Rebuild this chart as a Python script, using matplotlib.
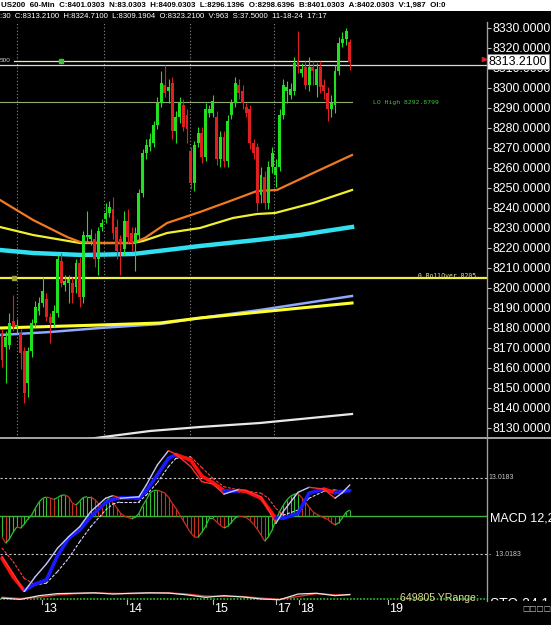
import numpy as np
import matplotlib
matplotlib.use("Agg")
import matplotlib.pyplot as plt
from matplotlib.collections import LineCollection
import matplotlib.transforms as mtransforms
from matplotlib.lines import Line2D
from matplotlib.patches import Rectangle

# ---------------- DATA ----------------
OPEN = [8177.5, 8170.5, 8171.5, 8183.5, 8180.5, 8177.5, 8168.5, 8152.5, 8168.5, 8182.5,
        8188.5, 8192.5, 8194.5, 8185.5, 8182.5, 8187.5, 8213.5, 8201.5, 8202.5, 8202.5,
        8200.5, 8212.5, 8195.5, 8225.5, 8224.5, 8224.5, 8214.5, 8230.5, 8234.5, 8237.5,
        8239.5, 8230.5, 8224.5, 8219.5, 8233.5, 8227.5, 8222.5, 8226.5, 8247.5, 8267.5,
        8270.5, 8272.5, 8281.5, 8292.5, 8301.5, 8298.5, 8302.5, 8278.5, 8285.5, 8291.5,
        8286.5, 8268.5, 8252.5, 8272.5, 8277.5, 8265.5, 8287.5, 8287.5, 8285.5, 8264.5,
        8275.5, 8263.5, 8286.5, 8292.5, 8301.5, 8298.5, 8290.5, 8289.5, 8272.5, 8270.5,
        8246.5, 8255.5, 8242.5, 8260.5, 8256.5, 8260.5, 8286.5, 8298.5, 8296.5, 8298.5,
        8313.5, 8307.5, 8310.5, 8301.5, 8310.5, 8301.5, 8310.5, 8301.5, 8297.5, 8289.5,
        8291.5, 8308.5, 8322.5, 8324.5, 8323.21]
HIGH = [8179.5, 8178.5, 8187.5, 8196.5, 8184.5, 8179.5, 8170.5, 8170.5, 8184.5, 8193.5,
        8195.5, 8205.5, 8197.5, 8187.5, 8191.5, 8216.5, 8217.5, 8206.5, 8206.5, 8205.5,
        8214.5, 8215.5, 8228.5, 8238.5, 8229.5, 8227.5, 8230.5, 8234.5, 8242.5, 8243.5,
        8245.5, 8234.5, 8226.5, 8238.5, 8239.5, 8230.5, 8230.5, 8249.5, 8269.5, 8274.5,
        8277.5, 8283.5, 8295.5, 8308.5, 8311.5, 8304.5, 8305.5, 8288.5, 8295.5, 8294.5,
        8289.5, 8270.5, 8273.5, 8280.5, 8280.5, 8292.5, 8291.5, 8296.5, 8288.5, 8278.5,
        8278.5, 8286.5, 8294.5, 8305.5, 8304.5, 8301.5, 8292.5, 8291.5, 8274.5, 8272.5,
        8260.5, 8258.5, 8263.5, 8270.5, 8264.5, 8289.5, 8304.5, 8303.5, 8302.5, 8315.5,
        8328.5, 8312.5, 8313.5, 8315.5, 8313.5, 8312.5, 8313.5, 8304.5, 8300.5, 8296.5,
        8311.5, 8325.5, 8328.0, 8330.0, 8324.71]
LOW = [8160.5, 8152.5, 8169.5, 8178.5, 8177.5, 8159.5, 8142.5, 8145.5, 8165.5, 8180.5,
       8186.5, 8190.5, 8183.5, 8172.5, 8180.5, 8185.5, 8200.5, 8198.5, 8192.5, 8192.5,
       8197.5, 8190.5, 8192.5, 8222.5, 8221.5, 8210.5, 8206.5, 8228.5, 8232.5, 8235.5,
       8224.5, 8214.5, 8206.5, 8216.5, 8222.5, 8218.5, 8208.5, 8224.5, 8245.5, 8264.5,
       8268.5, 8270.5, 8279.5, 8290.5, 8295.5, 8292.5, 8274.5, 8272.5, 8282.5, 8278.5,
       8272.5, 8249.5, 8248.5, 8270.5, 8262.5, 8263.5, 8285.5, 8285.5, 8261.5, 8260.5,
       8260.5, 8260.5, 8284.5, 8290.5, 8294.5, 8289.5, 8285.5, 8269.5, 8264.5, 8238.5,
       8242.5, 8239.5, 8239.5, 8257.5, 8250.5, 8258.5, 8284.5, 8292.5, 8294.5, 8296.5,
       8307.5, 8305.5, 8299.5, 8298.5, 8301.5, 8295.5, 8297.5, 8294.5, 8283.5, 8285.5,
       8287.5, 8306.5, 8320.5, 8321.5, 8309.19]
CLOSE = [8164.0, 8175.5, 8182.5, 8180.5, 8181.5, 8167.5, 8147.5, 8168.5, 8182.5, 8190.5,
         8192.5, 8198.5, 8185.5, 8182.5, 8188.5, 8214.5, 8202.5, 8203.5, 8204.5, 8197.5,
         8212.5, 8195.5, 8226.5, 8226.5, 8226.5, 8214.5, 8228.5, 8232.5, 8237.5, 8240.5,
         8227.5, 8218.5, 8222.5, 8233.5, 8225.5, 8222.5, 8227.5, 8247.5, 8267.5, 8271.5,
         8274.5, 8281.5, 8292.5, 8302.5, 8297.5, 8300.5, 8278.5, 8285.5, 8292.5, 8280.5,
         8279.5, 8252.5, 8271.5, 8277.5, 8265.5, 8289.5, 8289.5, 8293.5, 8264.5, 8275.5,
         8263.5, 8283.5, 8292.5, 8302.5, 8297.5, 8292.5, 8287.5, 8272.5, 8267.5, 8242.5,
         8256.5, 8242.5, 8260.5, 8267.5, 8260.5, 8286.5, 8301.5, 8300.5, 8299.5, 8312.5,
         8310.5, 8309.5, 8301.5, 8310.5, 8308.5, 8309.5, 8300.5, 8298.5, 8289.5, 8292.5,
         8308.5, 8322.5, 8324.5, 8328.5, 8313.21]

# moving averages (bar position, price)
MA_ORANGE_X = [-0.54, 8.4, 17.6, 21.1, 26.5, 35.4, 38.6, 44.6, 53.5, 62.4, 68.9, 74.3, 84.1, 94.6]
MA_ORANGE_Y = [8244, 8234, 8225.5, 8223, 8222.5, 8222.5, 8225, 8232.5, 8238, 8244, 8248.5, 8249, 8257.5, 8266.5]
MA_YELLOW_X = [-0.54, 8.4, 21.1, 35.4, 38.1, 44.6, 53.5, 62.4, 68.9, 73.8, 84.1, 94.6]
MA_YELLOW_Y = [8230.5, 8226.5, 8222.5, 8222.5, 8223.5, 8227.5, 8230, 8235, 8237, 8237.5, 8242.5, 8249]
MA_CYAN_X = [-0.54, 8.4, 21.9, 35.4, 44.6, 53.5, 68.9, 80.5, 94.6]
MA_CYAN_Y = [8219, 8217.5, 8216.5, 8217, 8219, 8221, 8224, 8226.5, 8230.5]
MA_LOWYEL_X = [-0.54, 26.5, 42.7, 53.5, 69.7, 94.6]
MA_LOWYEL_Y = [8180, 8181.5, 8182.5, 8185, 8188, 8192.5]
MA_LBLUE_X = [-0.54, 13.0, 26.5, 42.7, 53.5, 69.7, 94.6]
MA_LBLUE_Y = [8176.5, 8178, 8180, 8182, 8185, 8189, 8196]
MA_WHITE_X = [21.1, 40.0, 53.5, 69.7, 94.6]
MA_WHITE_Y = [8124, 8128.5, 8130.5, 8132.5, 8137]

LAST_PRICE = 8313.21
LEVEL_500 = 8313.5
BID_LINE = 8311.7
LO_HIGH = 8292.8799
ROLLOVER = 8205.0

PRICE_TICKS = list(range(8130, 8331, 10))

# MACD panel
MACD_X = [0, 3, 6, 9, 12, 15, 18, 21, 24, 28, 30, 32, 37, 39, 42, 45, 47, 51, 54, 57, 60,
          64, 66, 70, 72, 74, 76, 80, 83, 87, 90, 92, 94]
MACD_FAST = [-13.7, -19.4, -25.6, -20.5, -16.2, -10.9, -7.0, -3.6, 1.5, 6.0, 6.9, 6.0, 6.5,
             10.5, 17.3, 22.1, 20.9, 16.7, 11.6, 10.8, 7.4, 9.0, 8.6, 6.5, 2.0, -2.5, 1.5,
             8.0, 9.7, 9.1, 6.0, 7.9, 10.5]
MACD_SLOW = [-14.3, -20.5, -25.2, -23.0, -21.6, -13.5, -7.5, -4.7, -0.2, 4.5, 5.7, 6.0, 6.0,
             8.6, 13.9, 19.5, 20.8, 18.9, 13.5, 11.3, 8.6, 8.6, 8.3, 6.0, 2.6, -0.8, -0.8,
             0.9, 7.7, 9.1, 7.9, 8.2, 8.6]
MACD_SIGNAL = [-10.9, -15.4, -21.1, -23.3, -22.7, -18.8, -14.3, -8.7, -3.6, 2.0, 4.1, 4.8, 4.8,
               7.1, 11.3, 16.7, 19.5, 20.0, 16.4, 12.7, 9.9, 8.8, 8.4, 7.7, 6.0, 2.6, 0.3,
               2.0, 6.0, 8.4, 8.8, 8.6, 8.4]
MACD_HIST = [-7.0, -9.2, -7.8, -5.5, -3.7, -4.1, -2.8, -1.0, 0.3, 2.6, 4.7, 6.0, 6.4, 6.1, 5.6,
             6.2, 7.0, 7.1, 6.5, 4.4, 3.7, 5.0, 6.3, 6.5, 6.5, 5.6, 4.3, 3.2, 4.9, 5.9,
             4.5, 2.8, 1.0, 0.0, -0.5, -0.9, -0.5, 0.9, 3.4, 5.5, 7.8, 8.6, 8.7, 8.3, 7.8,
             6.3, 4.3, 2.6, 0.5, -1.6, -3.7, -5.7, -7.1, -7.2, -5.5, -3.6, -0.8, -0.8, -2.0, -3.2,
             -4.0, -3.5, -2.2, -0.6, -0.1, -0.2, -0.5, -1.5, -2.8, -4.5, -6.4, -8.5, -7.0, -4.8, -1.4,
             1.4, 3.6, 5.5, 6.7, 7.4, 7.6, 6.2, 4.7, 3.0, 1.5, 0.6, 0.0, -0.6, -1.1, -2.2,
             -3.0, -2.3, -0.6, 1.3, 2.0]
MACD_BAND = 13.0183

# stochastic strip
STO_X = [0, 5, 10, 15, 20, 25, 30, 35, 40, 45, 50, 55, 60, 65, 70, 75, 80, 85, 90, 94]
STO_K = [30, 15, 60, 85, 90, 95, 80, 90, 95, 92, 70, 40, 60, 45, 20, 10, 80, 90, 60, 75]
STO_D = [40, 25, 40, 70, 85, 92, 88, 85, 92, 94, 80, 55, 50, 50, 30, 15, 50, 85, 70, 70]

SESSION_BARS = [4.05, 27.6, 50.8, 73.5]
DAY_TICKS = [10.8, 33.8, 57.0, 74.1, 80.3, 104.3]
DAY_LABELS = ['13', '14', '15', '17', '18', '19']

HEADER1 = "US200  60-Min  C:8401.0303  N:83.0303  H:8409.0303  L:8296.1396  O:8298.6396  B:8401.0303  A:8402.0303  V:1,987  OI:0"
HEADER2 = ":30  C:8313.2100  H:8324.7100  L:8309.1904  O:8323.2100  V:963  S:37.5000  11-18-24  17:17"

# ---------------- FIGURE ----------------
W, H = 551, 625
SANS = 'Liberation Sans'
MONO = 'DejaVu Sans Mono'
fig = plt.figure(figsize=(W / 100, H / 100), dpi=100, facecolor='black')

def fy(py):
    return 1 - py / H

def fx(px):
    return px / W

XL = (-0.5405, 131.08)
AX_R = 487

# header
fig.patches.append(Rectangle((0, fy(10.5)), 1, 10.5 / H, transform=fig.transFigure,
                             facecolor='white', edgecolor='none', zorder=0))
fig.text(0.002, fy(5.5), HEADER1, color='black', fontsize=5.7, fontweight='bold',
         family=SANS, va='center', ha='left')
fig.text(0.0, fy(16.5), HEADER2, color='white', fontsize=5.6, family=SANS,
         va='center', ha='left')

# main price axes
ax = fig.add_axes([0, fy(438), fx(AX_R), (438 - 22) / H], facecolor='black')
ax.set_xlim(*XL)
ax.set_ylim(8125, 8333)
for s in ['top', 'left', 'bottom']:
    ax.spines[s].set_visible(False)
ax.spines['right'].set_color('#a0a0a0')
ax.yaxis.tick_right()
ax.set_yticks(PRICE_TICKS)
ax.yaxis.set_major_formatter(plt.FuncFormatter(lambda v, p: f"{v:.4f}"))
ax.tick_params(axis='y', colors='#c0c0c0', labelcolor='white', labelsize=8.9,
               length=3, width=0.8, pad=1)
for lab in ax.get_yticklabels():
    lab.set_family(SANS)
ax.set_xticks([])

# session separators
for b in SESSION_BARS:
    ax.axvline(b, color='#8a8a8a', lw=0.8, ls=(0, (1, 2)), zorder=1)

# horizontal levels
ax.axhline(ROLLOVER, color='#f0f040', lw=1.6, zorder=2)
ax.plot([-0.54, 94.5], [LO_HIGH, LO_HIGH], color='#90b070', lw=0.8, zorder=2)
ax.plot([3.2, 93.5], [LEVEL_500, LEVEL_500], color='#e8e8b0', lw=0.9, zorder=2)
ax.axhline(BID_LINE, color='#d8d8d8', lw=0.9, zorder=2)
ax.plot([15.9], [LEVEL_500], marker='s', ms=2.5, color='#40c040', zorder=3)
ax.plot([3.2], [ROLLOVER], marker='s', ms=2.2, color='#a0a040', zorder=3)

ax.text(100.3, LO_HIGH, 'LO High 8292.8799', color='#40c040', fontsize=4.6,
        family=MONO, va='center', ha='left')
ax.text(112.4, ROLLOVER + 1.0, '0 RollOver 8205.', color='#e0e0a0', fontsize=4.7,
        family=MONO, va='center', ha='left')
ax.text(-0.54, LEVEL_500, '500', color='#d0d0d0', fontsize=4.6, family=SANS,
        va='center', ha='left')

# moving averages
ax.plot(MA_WHITE_X, MA_WHITE_Y, color='#e8e8e8', lw=1.6, zorder=3)
ax.plot(MA_LBLUE_X, MA_LBLUE_Y, color='#90a8ff', lw=1.8, zorder=3)
ax.plot(MA_LOWYEL_X, MA_LOWYEL_Y, color='#ffff30', lw=2.2, zorder=3)
ax.plot(MA_CYAN_X, MA_CYAN_Y, color='#30e0f0', lw=3.2, zorder=3)
ax.plot(MA_YELLOW_X, MA_YELLOW_Y, color='#f0f030', lw=1.6, zorder=3)
ax.plot(MA_ORANGE_X, MA_ORANGE_Y, color='#f07a20', lw=1.6, zorder=3)

# candles
o = np.array(OPEN); h = np.array(HIGH); l = np.array(LOW); c = np.array(CLOSE)
xs = np.arange(len(o))
up = c >= o
cols = np.where(up, '#20e020', '#e02020')
ax.vlines(xs, l, h, colors=cols, lw=0.8, zorder=4)
body_lo = np.minimum(o, c)
body_h = np.maximum(np.abs(c - o), 0.6)
ax.bar(xs, body_h, bottom=body_lo, width=0.8, color=cols, zorder=5, linewidth=0)

# last price box
btr = mtransforms.blended_transform_factory(ax.transAxes, ax.transData)
ax.text(1.003, LAST_PRICE, '8313.2100', transform=btr, color='black', fontsize=8.9,
        family=SANS, va='center', ha='left', zorder=20, clip_on=False,
        bbox=dict(facecolor='white', edgecolor='#808080', pad=1.2, lw=0.6))
ax.plot([0.993], [LAST_PRICE + 1.5], marker='>', ms=3, color='#e02020', transform=btr,
        clip_on=False, zorder=21)

# MACD axes
MT, MB = 438, 592
axm = fig.add_axes([0, fy(MB), fx(AX_R), (MB - MT) / H], facecolor='black')
axm.set_xlim(*XL)
zero_px = 516
ppu = 2.957
axm.set_ylim((zero_px - MB) / ppu, (zero_px - MT) / ppu)
axm.set_xticks([]); axm.set_yticks([])
for s in ['top', 'left', 'bottom']:
    axm.spines[s].set_visible(False)
axm.spines['right'].set_color('#a0a0a0')

axm.axhline(0, color='#40b040', lw=1.0, zorder=1)
axm.axhline(MACD_BAND, color='#c8c8c8', lw=0.8, ls=(0, (2, 2)), zorder=1)
axm.axhline(-MACD_BAND, color='#c8c8c8', lw=0.8, ls=(0, (2, 2)), zorder=1)

hist = np.array(MACD_HIST)
hx = np.arange(len(hist))
hcol = ['#30c030' if (i == 0 or hist[i] >= hist[i - 1]) else '#c83020' for i in range(len(hist))]
axm.vlines(hx, 0, hist, colors=hcol, lw=0.8, zorder=2)
pts = np.column_stack([hx, hist])
segs = np.stack([pts[:-1], pts[1:]], axis=1)
axm.add_collection(LineCollection(segs, colors=hcol[1:], lw=0.9, zorder=2))

def slope_line(axis, xv, yv, c_up, c_dn, lw, ls='solid', z=3):
    p = np.column_stack([xv, yv])
    sg = np.stack([p[:-1], p[1:]], axis=1)
    cc = [c_up if yv[i + 1] >= yv[i] else c_dn for i in range(len(yv) - 1)]
    axis.add_collection(LineCollection(sg, colors=cc, lw=lw, linestyles=ls, zorder=z,
                                       capstyle='round', joinstyle='round'))

slope_line(axm, MACD_X, MACD_SIGNAL, '#d8d8ff', '#ff4040', 0.8, ls=(0, (2, 2)), z=3)
slope_line(axm, MACD_X, MACD_SLOW, '#1a1aff', '#ff1010', 2.6, z=4)
slope_line(axm, MACD_X, MACD_FAST, '#c8c8ff', '#ff3030', 1.0, z=5)

mtr = mtransforms.blended_transform_factory(axm.transAxes, axm.transData)
axm.text(1.004, MACD_BAND, '13.0183', transform=mtr, color='#c8c8c8', fontsize=5,
         family=SANS, va='center', ha='left', clip_on=False)
axm.text(1.004, -MACD_BAND, '-  13.0183', transform=mtr, color='#c8c8c8', fontsize=5,
         family=SANS, va='center', ha='left', clip_on=False)
axm.text(1.006, -0.8, 'MACD 12,26,9', transform=mtr, color='white', fontsize=9,
         family=SANS, va='center', ha='left', clip_on=False)

# stochastic strip
ST, SB = 592, 601
axs = fig.add_axes([0, fy(SB), fx(AX_R), (SB - ST) / H], facecolor='black')
axs.set_xlim(*XL)
axs.set_ylim(-5, 105)
axs.set_xticks([]); axs.set_yticks([])
for s in axs.spines.values():
    s.set_visible(False)
axs.axhline(20, color='#30c030', lw=1.2, ls=(0, (1, 1)))
axs.plot(STO_X, STO_D, color='#e03030', lw=1.0)
axs.plot(STO_X, STO_K, color='#e8e8e8', lw=0.9)
axs.text(107.6, 35, '649805 YRange:', color='#e0d890', fontsize=7.6, family=SANS,
         va='center', ha='left')

axr = fig.add_axes([fx(AX_R), fy(SB), 1 - fx(AX_R), (SB - ST) / H], facecolor='black')
axr.set_axis_off()
axr.set_xlim(0, 1); axr.set_ylim(0, 1)
axr.text(0.05, -0.3, 'STO 24,1,3', color='white', fontsize=10, family=SANS,
         va='center', ha='left', clip_on=True)

# frame lines
fig.add_artist(Line2D([0, 1], [fy(438), fy(438)], transform=fig.transFigure,
                      color='#c0c0c0', lw=1.2))
fig.add_artist(Line2D([fx(AX_R), fx(AX_R)], [fy(22), fy(601)], transform=fig.transFigure,
                      color='#a0a0a0', lw=0.9))

# day ticks and labels
dtr = mtransforms.blended_transform_factory(axm.transData, fig.transFigure)
for b, lab in zip(DAY_TICKS, DAY_LABELS):
    fig.add_artist(Line2D([b, b], [fy(600), fy(604)], transform=dtr, color='#c0c0c0', lw=0.8))
    fig.text(b + 0.25, fy(609.5), lab, transform=dtr, color='white', fontsize=9,
             family=SANS, va='center', ha='left')

fig.text(fx(522), fy(609), '□□□□', color='#c0c0c0', fontsize=5.5, family='DejaVu Sans',
         va='center', ha='left')

fig.savefig('out.png', dpi=100, facecolor='black')
